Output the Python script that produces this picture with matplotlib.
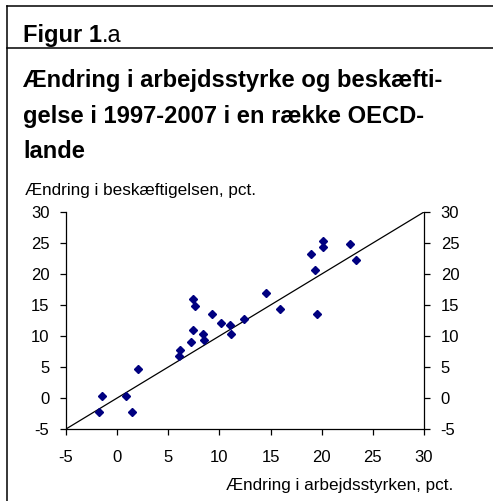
import matplotlib
matplotlib.use("Agg")
import matplotlib.pyplot as plt
from matplotlib.lines import Line2D

plt.rcParams['font.family'] = ['Liberation Sans', 'DejaVu Sans']
plt.rcParams['axes.unicode_minus'] = False

# Data
labour_force = [-1.8, -1.45, 0.9, 1.5, 2.0, 6.0, 6.1, 7.2, 7.4, 7.4, 7.6, 8.4, 8.5,
                9.3, 10.2, 11.0, 11.1, 12.4, 14.6, 15.9, 19.0, 19.3, 19.5, 20.1,
                20.1, 22.8, 23.4]
employment = [-2.2, 0.4, 0.4, -2.2, 4.6, 6.8, 7.7, 9.0, 11.0, 16.0, 14.8, 10.3, 9.4,
              13.5, 12.1, 11.8, 10.4, 12.8, 17.0, 14.3, 23.2, 20.6, 13.5, 25.4,
              24.3, 24.9, 22.2]
diag_x = [-5, 30]
diag_y = [-5, 30]
ticks = [-5, 0, 5, 10, 15, 20, 25, 30]

W, H = 493, 501
fig = plt.figure(figsize=(W / 100, H / 100), dpi=100)

def fx(px):
    return px / W

def fy(py):
    return 1 - py / H

# frame lines
fig.add_artist(Line2D([fx(7), 1], [fy(6), fy(6)], color='black', lw=1.1, transform=fig.transFigure))
fig.add_artist(Line2D([fx(7), 1], [fy(48), fy(48)], color='black', lw=1.1, transform=fig.transFigure))
fig.add_artist(Line2D([fx(7), fx(7)], [fy(6), 0], color='black', lw=1.1, transform=fig.transFigure))

renderer = fig.canvas.get_renderer()
t1 = fig.text(fx(23), fy(42), "Figur 1", fontsize=17, fontweight='bold', va='baseline', ha='left')
bb = t1.get_window_extent(renderer)
fig.text(bb.x1 / W, fy(42), ".a", fontsize=17, va='baseline', ha='left')

title_lines = ["Ændring i arbejdsstyrke og beskæfti-",
               "gelse i 1997-2007 i en række OECD-",
               "lande"]
for i, t in enumerate(title_lines):
    fig.text(fx(23), fy(87 + 35.5 * i), t, fontsize=17.1, fontweight='bold',
             va='baseline', ha='left')

fig.text(fx(25), fy(195), "Ændring i beskæftigelsen, pct.", fontsize=12.3, va='baseline', ha='left')

ax = fig.add_axes([fx(66), fy(429), fx(424) - fx(66), fy(212) - fy(429)])
ax.plot(diag_x, diag_y, color='black', lw=0.9)
ax.plot(labour_force, employment, linestyle='none', marker='D', ms=4.0,
        color='#000080', mec='#000080')
ax.set_xlim(-5, 30)
ax.set_ylim(-5, 30)
ax.set_xticks(ticks)
ax.set_yticks(ticks)
ax.spines['top'].set_visible(False)
for s in ['left', 'right', 'bottom']:
    ax.spines[s].set_linewidth(0.9)
ax.tick_params(axis='y', which='both', direction='out', length=4, width=0.9,
               left=True, right=True, labelleft=True, labelright=True,
               labelsize=12, pad=8)
ax.tick_params(axis='x', direction='out', length=4, width=0.9, labelsize=12, pad=11)

fig.text(fx(453), fy(490), "Ændring i arbejdsstyrken, pct.", fontsize=12.3, va='baseline', ha='right')

fig.savefig("out.png", dpi=100)
